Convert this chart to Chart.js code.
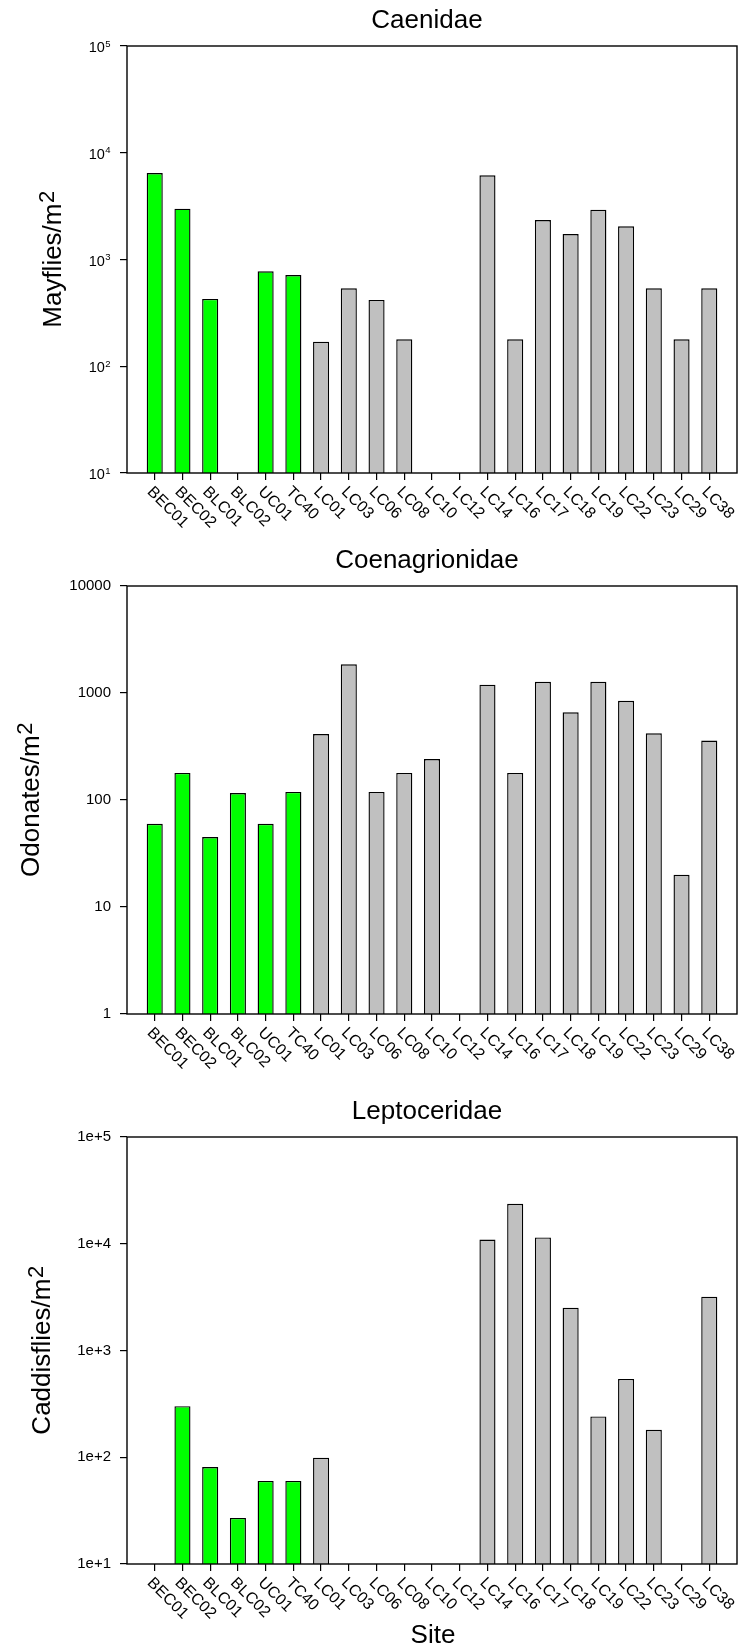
<!DOCTYPE html>
<html>
<head>
<meta charset="utf-8">
<script src="https://cdn.jsdelivr.net/npm/chart.js@4.4.1/dist/chart.umd.min.js"></script>
<style>
  html, body { margin: 0; padding: 0; background: #fff; }
  body { width: 741px; height: 1650px; position: relative; overflow: hidden; }
  canvas { position: absolute; left: 0; }
</style>
</head>
<body>
<canvas id="caenidaeChart" width="741" height="530" style="top:0px"></canvas>
<canvas id="coenagrionidaeChart" width="741" height="540" style="top:530px"></canvas>
<canvas id="leptoceridaeChart" width="741" height="580" style="top:1070px"></canvas>
<script>
// Sampling sites (reference streams first, then LC sites)
const sites = ['BEC01', 'BEC02', 'BLC01', 'BLC02', 'UC01', 'TC40', 'LC01', 'LC03', 'LC06', 'LC08',
  'LC10', 'LC12', 'LC14', 'LC16', 'LC17', 'LC18', 'LC19', 'LC22', 'LC23', 'LC29', 'LC38'];

// Densities per m² (null = none collected)
const caenidae = [6450, 2990, 427, null, 775, 716, 170, 537, 418, 179,
  null, null, 6150, 179, 2345, 1733, 2929, 2047, 537, 179, 537];
const coenagrionidae = [60, 179, 45, 116, 60, 119, 414, 1855, 119, 179,
  241, null, 1197, 179, 1271, 661, 1271, 845, 420, 20, 360];
const leptoceridae = [null, 301, 81, 27, 60, 60, 99, null, null, null,
  null, null, 10950, 23700, 11450, 2520, 241, 542, 181, null, 3195];

// Axis ticks
const caenidaeTicks = [10, 100, 1000, 10000, 100000];
const caenidaeExponents = ['1', '2', '3', '4', '5'];
const coenagrionidaeTicks = [1, 10, 100, 1000, 10000];
const coenagrionidaeLabels = ['1', '10', '100', '1000', '10000'];
const leptoceridaeTicks = [10, 100, 1000, 10000, 100000];
const leptoceridaeLabels = ['1e+1', '1e+2', '1e+3', '1e+4', '1e+5'];

const FAMILY = '"Liberation Sans", Arial, Helvetica, sans-serif';
const font = px => px + 'px ' + FAMILY;
const barFill = s => (s.startsWith('LC') ? '#c0c0c0' : '#00ff00');

function decorPlugin(p) {
  return {
    id: 'panelDecor',
    afterDatasetsDraw(chart) {
      const { ctx, chartArea: a } = chart;
      ctx.save();
      ctx.strokeStyle = '#000';
      ctx.lineWidth = 1.4;
      ctx.strokeRect(a.left, a.top, a.right - a.left, a.bottom - a.top);
      ctx.restore();
    },
    afterDraw(chart) {
      const { ctx, chartArea: a, scales: { x, y } } = chart;
      ctx.save();
      ctx.fillStyle = '#000';

      // panel title
      ctx.font = font(26);
      ctx.textAlign = 'center';
      ctx.textBaseline = 'alphabetic';
      ctx.fillText(p.title, 427, a.top - p.titleGap);

      // vertical axis title with superscript unit
      ctx.font = font(26);
      const w1 = ctx.measureText(p.yTitle).width;
      ctx.font = font(22);
      const w2 = ctx.measureText('2').width;
      const total = w1 + w2;
      ctx.save();
      ctx.translate(p.yTitleX, (a.top + a.bottom) / 2);
      ctx.rotate(-Math.PI / 2);
      ctx.textAlign = 'left';
      ctx.font = font(26);
      ctx.fillText(p.yTitle, -total / 2, 0);
      ctx.font = font(22);
      ctx.fillText('2', -total / 2 + w1 + 0.5, -7);
      ctx.restore();

      // power-of-ten tick labels
      if (p.exponents) {
        ctx.textBaseline = 'alphabetic';
        ctx.textAlign = 'right';
        p.ticks.forEach((v, i) => {
          const py = y.getPixelForValue(v);
          ctx.font = font(9.5);
          const sw = ctx.measureText(p.exponents[i]).width;
          ctx.fillText(p.exponents[i], 110.5, py + 0.7);
          ctx.font = font(14.5);
          ctx.fillText('10', 110.5 - sw - 0.3, py + 6);
        });
      }

      // slanted site labels
      ctx.font = font(16);
      ctx.textAlign = 'left';
      ctx.textBaseline = 'middle';
      sites.forEach((s, i) => {
        const px = x.getPixelForValue(i + 1);
        ctx.save();
        ctx.translate(px - 5, a.bottom + 16.5);
        ctx.rotate(Math.PI / 4);
        ctx.fillText(s, 0, 0);
        ctx.restore();
      });

      // horizontal axis title
      if (p.xTitle) {
        ctx.font = font(26);
        ctx.textAlign = 'center';
        ctx.textBaseline = 'alphabetic';
        ctx.fillText(p.xTitle, 433, a.bottom + 79);
      }
      ctx.restore();
    }
  };
}

function makePanel(id, p) {
  const canvas = document.getElementById(id);
  new Chart(canvas, {
    type: 'bar',
    data: {
      datasets: [{
        data: sites.map((s, i) => ({ x: i + 1, y: p.values[i] })),
        backgroundColor: sites.map(barFill),
        borderColor: '#000',
        borderWidth: 1.4,
        barPercentage: 0.58,
        categoryPercentage: 1
      }]
    },
    options: {
      responsive: false,
      animation: false,
      events: [],
      layout: { padding: { left: 0, right: 4, top: p.top, bottom: 0 } },
      plugins: { legend: { display: false }, tooltip: { enabled: false }, title: { display: false } },
      scales: {
        x: {
          type: 'linear',
          min: 0,
          max: sites.length + 1,
          offset: false,
          grid: { offset: false, drawOnChartArea: false, drawTicks: true, tickLength: 7, color: '#000', tickColor: '#000', lineWidth: 1.2 },
          border: { display: false },
          ticks: { display: false, autoSkip: false },
          afterBuildTicks: axis => { axis.ticks = sites.map((s, i) => ({ value: i + 1 })); },
          afterFit: axis => { axis.height = p.xAxisHeight; }
        },
        y: {
          type: 'logarithmic',
          min: p.ticks[0],
          max: p.ticks[p.ticks.length - 1],
          grid: { drawOnChartArea: false, drawTicks: true, tickLength: 7, color: '#000', tickColor: '#000', lineWidth: 1.2 },
          border: { display: false },
          ticks: {
            display: !p.exponents,
            color: '#000',
            padding: 9,
            font: { family: FAMILY, size: 15 },
            callback: (v, i) => (p.labels ? p.labels[i] : '')
          },
          afterBuildTicks: axis => { axis.ticks = p.ticks.map(v => ({ value: v })); },
          afterFit: axis => { axis.width = 127; }
        }
      }
    },
    plugins: [decorPlugin(p)]
  });
}

makePanel('caenidaeChart', {
  title: 'Caenidae', titleGap: 18.5, yTitle: 'Mayflies/m', yTitleX: 61,
  values: caenidae, ticks: caenidaeTicks, exponents: caenidaeExponents,
  top: 46, xAxisHeight: 57
});
makePanel('coenagrionidaeChart', {
  title: 'Coenagrionidae', titleGap: 18.5, yTitle: 'Odonates/m', yTitleX: 38.5,
  values: coenagrionidae, ticks: coenagrionidaeTicks, labels: coenagrionidaeLabels,
  top: 56, xAxisHeight: 56
});
makePanel('leptoceridaeChart', {
  title: 'Leptoceridae', titleGap: 18.5, yTitle: 'Caddisflies/m', yTitleX: 50,
  values: leptoceridae, ticks: leptoceridaeTicks, labels: leptoceridaeLabels,
  top: 67, xAxisHeight: 86, xTitle: 'Site'
});
</script>
</body>
</html>
